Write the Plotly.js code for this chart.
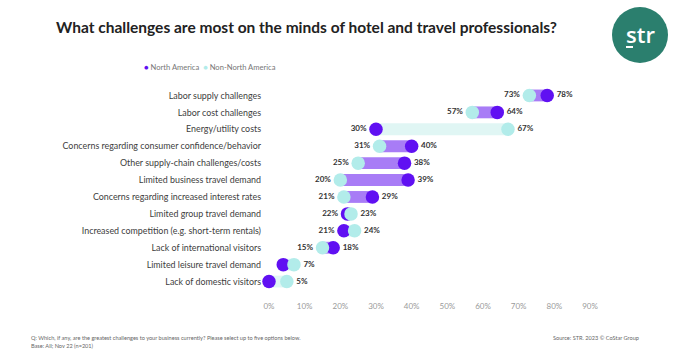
<!DOCTYPE html>
<html>
<head>
<meta charset="utf-8">
<script src="https://cdn.plot.ly/plotly-3.0.1.min.js"></script>
<style>html,body{margin:0;padding:0;background:#fff;}#chart{width:700px;height:352px;}</style>
</head>
<body>
<div id="chart"></div>
<script>
// ---- data ----
const categories = [
  "Labor supply challenges",
  "Labor cost challenges",
  "Energy/utility costs",
  "Concerns regarding consumer confidence/behavior",
  "Other supply-chain challenges/costs",
  "Limited business travel demand",
  "Concerns regarding increased interest rates",
  "Limited group travel demand",
  "Increased competition (e.g. short-term rentals)",
  "Lack of international visitors",
  "Limited leisure travel demand",
  "Lack of domestic visitors"
];
const northAmerica    = [78, 64, 30, 40, 38, 39, 29, 22, 21, 18, 4, 0];
const nonNorthAmerica = [73, 57, 67, 31, 25, 20, 21, 23, 24, 15, 7, 5];
const xTickVals = [0, 10, 20, 30, 40, 50, 60, 70, 80, 90];

// ---- styles ----
const NA_COLOR = "#6010f2";
const NON_COLOR = "#b2ecea";
const BAR_UP = "#a87cf6";
const BAR_DOWN = "#e0f6f4";
const FONT = "Lato, 'Open Sans', sans-serif";

const W = 700, H = 352;
const M = {l: 269, r: 110, t: 87, b: 62};
const pw = W - M.l - M.r, ph = H - M.t - M.b;
const px2x = p => (p - M.l) / pw;
const py2y = p => (H - M.b - p) / ph;

const base = categories.map((c, i) => Math.min(northAmerica[i], nonNorthAmerica[i]));
const span = categories.map((c, i) => Math.abs(northAmerica[i] - nonNorthAmerica[i]));
const barColors = categories.map((c, i) => northAmerica[i] >= nonNorthAmerica[i] ? BAR_UP : BAR_DOWN);

const lbl = v => v >= 5 ? v + "%" : "";

const traces = [
  {
    type: "bar", orientation: "h", y: categories, x: span, base: base,
    width: 0.7, marker: {color: barColors, line: {width: 0}},
    showlegend: false, hoverinfo: "skip"
  },
  {
    type: "scatter", mode: "markers+text", name: "North America",
    y: categories, x: northAmerica,
    marker: {color: NA_COLOR, size: 13.5},
    text: northAmerica.map(lbl),
    textposition: categories.map((c, i) => northAmerica[i] >= nonNorthAmerica[i] ? "middle right" : "middle left"),
    textfont: {family: FONT, size: 8, color: "#333", weight: "bold"},
    cliponaxis: false, showlegend: false
  },
  {
    type: "scatter", mode: "markers+text", name: "Non-North America",
    y: categories, x: nonNorthAmerica,
    marker: {color: NON_COLOR, size: 13.5},
    text: nonNorthAmerica.map(lbl),
    textposition: categories.map((c, i) => nonNorthAmerica[i] > northAmerica[i] ? "middle right" : "middle left"),
    textfont: {family: FONT, size: 8, color: "#333", weight: "bold"},
    cliponaxis: false, showlegend: false
  }
];

const layout = {
  width: W, height: H,
  margin: M,
  paper_bgcolor: "#fff", plot_bgcolor: "#fff",
  font: {family: FONT},
  showlegend: false,
  barmode: "overlay",
  title: {
    text: "What challenges are most on the minds of hotel and travel professionals?",
    font: {family: FONT, size: 15.5, color: "#222", weight: "bold"},
    xref: "container", yref: "container",
    x: 306.5 / W, xanchor: "center",
    y: 1 - 28 / H, yanchor: "middle"
  },
  xaxis: {
    range: [0, 90], tickvals: xTickVals, ticktext: xTickVals.map(v => v + "%"),
    showgrid: false, zeroline: false, showline: false, ticks: "",
    ticklabelstandoff: 10,
    tickfont: {family: FONT, size: 8, color: "#9a9a9a"},
    fixedrange: true
  },
  yaxis: {
    type: "category", categoryorder: "array", categoryarray: categories,
    range: [categories.length - 0.5, -0.5],
    showgrid: false, zeroline: false, showline: false, ticks: "",
    ticklabelstandoff: 7,
    tickfont: {family: FONT, size: 8.9, color: "#404040"},
    fixedrange: true
  },
  shapes: [
    {type: "circle", xref: "paper", yref: "paper",
     x0: px2x(612), x1: px2x(668), y0: py2y(63), y1: py2y(7),
     fillcolor: "#2b7f6e", line: {width: 0}},
    {type: "line", xref: "paper", yref: "paper",
     x0: px2x(626), x1: px2x(633), y0: py2y(47), y1: py2y(47),
     line: {color: "#fff", width: 2}}
  ],
  annotations: [
    {xref: "paper", yref: "paper", x: px2x(640), y: py2y(34), xanchor: "center", yanchor: "middle",
     text: "str", showarrow: false, font: {family: "'Open Sans', sans-serif", size: 22, color: "#fff", weight: 600}},
    {xref: "paper", yref: "paper", x: px2x(142), y: py2y(67), xanchor: "left", yanchor: "middle",
     text: '<span style="color:' + NA_COLOR + '">●</span> North America  <span style="color:' + NON_COLOR + '">●</span> Non-North America',
     showarrow: false, font: {family: FONT, size: 7.6, color: "#777"}},
    {xref: "paper", yref: "paper", x: px2x(29), y: py2y(337), xanchor: "left", yanchor: "middle",
     text: "Q: Which, if any, are the greatest challenges to your business currently? Please select up to five options below.",
     showarrow: false, font: {family: FONT, size: 5.6, color: "#666"}},
    {xref: "paper", yref: "paper", x: px2x(29), y: py2y(345), xanchor: "left", yanchor: "middle",
     text: "Base: All; Nov 22 (n=201)",
     showarrow: false, font: {family: FONT, size: 5.6, color: "#666"}},
    {xref: "paper", yref: "paper", x: px2x(551), y: py2y(337), xanchor: "left", yanchor: "middle",
     text: "Source: STR. 2023 © CoStar Group",
     showarrow: false, font: {family: FONT, size: 5.6, color: "#666"}}
  ]
};

Plotly.newPlot("chart", traces, layout, {displayModeBar: false, staticPlot: true});
</script>
</body>
</html>
